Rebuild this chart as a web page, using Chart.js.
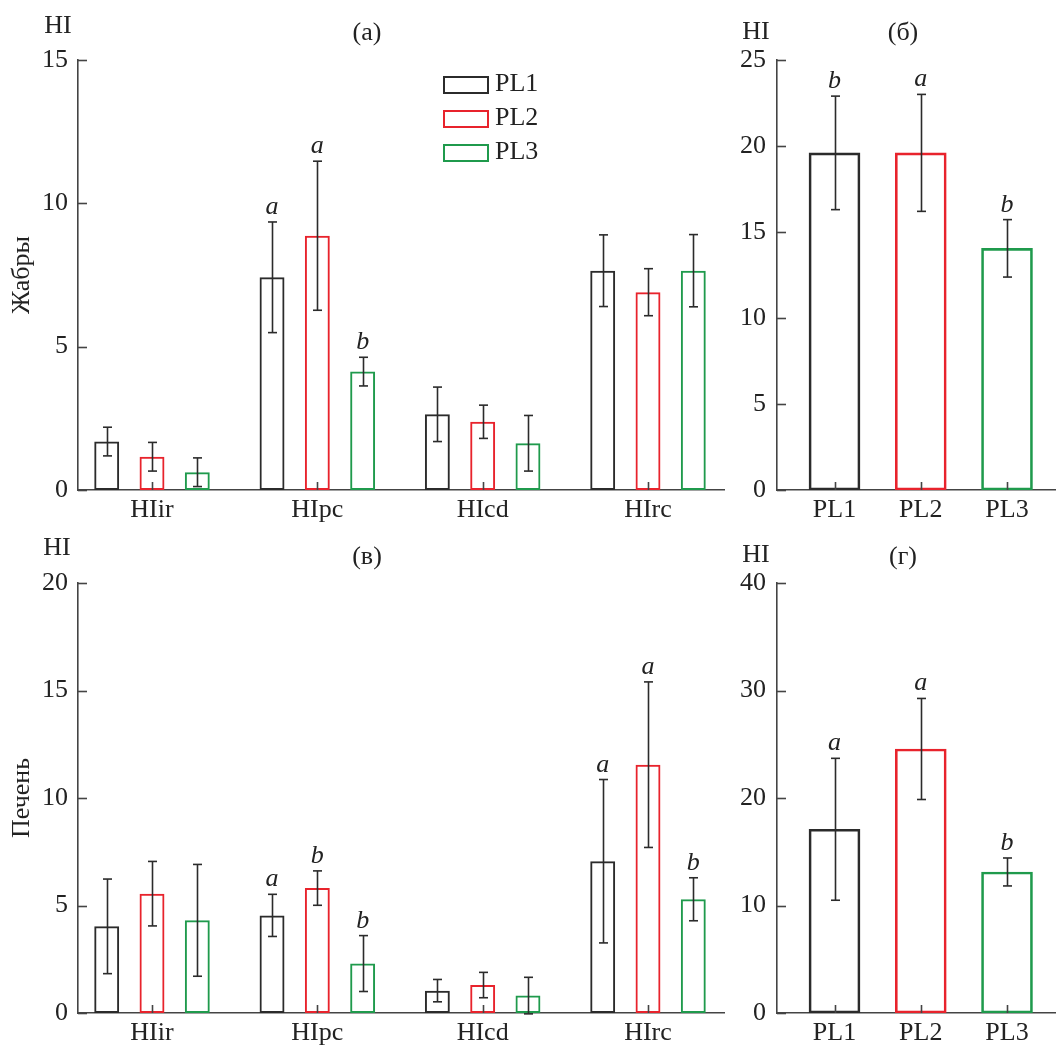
<!DOCTYPE html>
<html>
<head>
<meta charset="utf-8">
<script src="https://cdn.jsdelivr.net/npm/chart.js@4.4.1/dist/chart.umd.min.js"></script>
<style>
  body { margin: 0; background: #fff; }
  canvas { position: absolute; }
</style>
</head>
<body>
<canvas id="chartA" width="725" height="525" style="left:0;top:0"></canvas>
<canvas id="chartB" width="331" height="525" style="left:725px;top:0"></canvas>
<canvas id="chartC" width="725" height="522" style="left:0;top:525px"></canvas>
<canvas id="chartD" width="331" height="522" style="left:725px;top:525px"></canvas>
<script>
const groups = ["HIir", "HIpc", "HIcd", "HIrc"];
const sites = ["PL1", "PL2", "PL3"];
const siteColors = ["#2b2b2b", "#e8232c", "#1f9a4c"];

// (а) жабры, по индексам
const gillPL1 = [1.69, 7.42, 2.64, 7.65];
const gillPL2 = [1.16, 8.87, 2.38, 6.90];
const gillPL3 = [0.62, 4.13, 1.63, 7.65];
const gillErrPL1 = [0.5, 1.93, 0.95, 1.25];
const gillErrPL2 = [0.5, 2.6, 0.58, 0.82];
const gillErrPL3 = [0.5, 0.5, 0.97, 1.26];
const gillMarkPL1 = ["", "a", "", ""];
const gillMarkPL2 = ["", "a", "", ""];
const gillMarkPL3 = ["", "b", "", ""];
const gillTicks = [0, 5, 10, 15];

// (б) жабры, суммарный HI
const gillTotal = [19.6, 19.6, 14.05];
const gillTotalErr = [3.3, 3.4, 1.67];
const gillTotalMark = ["b", "a", "b"];
const gillTotalTicks = [0, 5, 10, 15, 20, 25];

// (в) печень, по индексам
const liverPL1 = [4.03, 4.54, 1.04, 7.06];
const liverPL2 = [5.55, 5.81, 1.30, 11.55];
const liverPL3 = [4.31, 2.30, 0.81, 5.29];
const liverErrPL1 = [2.2, 0.98, 0.52, 3.8];
const liverErrPL2 = [1.5, 0.8, 0.59, 3.85];
const liverErrPL3 = [2.6, 1.3, 0.85, 1.0];
const liverMarkPL1 = ["", "a", "", "a"];
const liverMarkPL2 = ["", "b", "", "a"];
const liverMarkPL3 = ["", "b", "", "b"];
const liverTicks = [0, 5, 10, 15, 20];

// (г) печень, суммарный HI
const liverTotal = [17.09, 24.56, 13.12];
const liverTotalErr = [6.6, 4.7, 1.3];
const liverTotalMark = ["a", "a", "b"];
const liverTotalTicks = [0, 10, 20, 30, 40];

const serif = "'Liberation Serif', 'Times New Roman', serif";
const ink = "#2b2b2b";
const axisColor = "#444";
const fontSize = 26;

Chart.defaults.font.family = serif;
Chart.defaults.font.size = fontSize;
Chart.defaults.color = "#222";

function line(ctx, x1, y1, x2, y2) {
  ctx.beginPath();
  ctx.moveTo(x1, y1);
  ctx.lineTo(x2, y2);
  ctx.stroke();
}

// inward ticks, error bars, letters, titles, legend
const decor = {
  id: "decor",
  afterDatasetsDraw(chart, args, opts) {
    const ctx = chart.ctx;
    const xs = chart.scales.x, ys = chart.scales.y;
    ctx.save();
    ctx.strokeStyle = axisColor;
    ctx.lineWidth = 1.6;
    ys.ticks.forEach(t => {
      const py = Math.round(ys.getPixelForValue(t.value)) + 0.5;
      line(ctx, xs.left, py, xs.left + 9, py);
    });
    xs.ticks.forEach(t => {
      const px = Math.round(xs.getPixelForValue(t.value)) + 0.5;
      line(ctx, px, ys.bottom, px, ys.bottom - 8);
    });

    ctx.strokeStyle = ink;
    ctx.lineWidth = 1.6;
    ctx.fillStyle = "#222";
    ctx.font = "italic " + fontSize + "px " + serif;
    ctx.textAlign = "center";
    ctx.textBaseline = "alphabetic";
    opts.errors.forEach((errs, d) => {
      const meta = chart.getDatasetMeta(d);
      const pts = chart.data.datasets[d].data;
      meta.data.forEach((bar, i) => {
        const v = pts[i].y;
        const px = Math.round(bar.x) + 0.5;
        const top = ys.getPixelForValue(v + errs[i]);
        const bot = ys.getPixelForValue(v - errs[i]);
        line(ctx, px, top, px, bot);
        line(ctx, px - 4.5, top, px + 4.5, top);
        line(ctx, px - 4.5, bot, px + 4.5, bot);
        const m = opts.marks[d][i];
        if (m) ctx.fillText(m, bar.x, top - 8);
      });
    });

    ctx.font = fontSize + "px " + serif;
    ctx.textBaseline = "middle";
    opts.texts.forEach(t => {
      ctx.save();
      ctx.translate(t.x, t.y);
      if (t.rotate) ctx.rotate(-Math.PI / 2);
      ctx.fillText(t.text, 0, 0);
      ctx.restore();
    });

    if (opts.legend) {
      ctx.lineWidth = 2;
      ctx.textAlign = "left";
      sites.forEach((s, i) => {
        const top = 76 + 34 * i;
        ctx.strokeStyle = siteColors[i];
        ctx.strokeRect(444, top + 1, 44, 16);
        ctx.fillText(s, 495, top + 8);
      });
    }
    ctx.restore();
  }
};

function yAxis(max, ticks, width, pad) {
  return {
    type: "linear",
    min: 0,
    max: max,
    grid: { display: false, drawTicks: false },
    border: { display: true, color: axisColor, width: 1.6 },
    ticks: { padding: pad },
    afterBuildTicks: s => { s.ticks = ticks.map(v => ({ value: v })); },
    afterFit: s => { s.width = width; }
  };
}

function xAxis(min, max, labels, height) {
  return {
    type: "linear",
    offset: false,
    min: min,
    max: max,
    grid: { display: false, drawTicks: false, offset: false },
    border: { display: true, color: axisColor, width: 1.6 },
    ticks: { padding: 5, callback: v => labels[Math.round(v) - 1] },
    afterBuildTicks: s => { s.ticks = labels.map((l, i) => ({ value: i + 1 })); },
    afterFit: s => { s.height = height; }
  };
}

function points(vals) {
  return vals.map((v, i) => ({ x: i + 1, y: v }));
}

function groupedChart(id, series, errs, marks, max, ticks, top, xh, texts, legend) {
  return new Chart(document.getElementById(id), {
    type: "bar",
    data: {
      datasets: series.map((vals, d) => ({
        label: sites[d],
        data: points(vals),
        backgroundColor: "rgba(255,255,255,0)",
        borderColor: siteColors[d],
        borderWidth: 2,
        borderSkipped: false,
        categoryPercentage: 0.822,
        barPercentage: 0.55
      }))
    },
    options: {
      responsive: false,
      animation: false,
      layout: { autoPadding: false, padding: { top: top, right: 1, left: 0, bottom: 0 } },
      plugins: {
        legend: { display: false },
        tooltip: { enabled: false },
        decor: { errors: errs, marks: marks, texts: texts, legend: legend }
      },
      scales: {
        x: xAxis(0.5524, 4.4597, groups, xh),
        y: yAxis(max, ticks, 78, 10)
      }
    },
    plugins: [decor]
  });
}

function totalChart(id, vals, errs, marks, max, ticks, top, xh, texts) {
  return new Chart(document.getElementById(id), {
    type: "bar",
    data: {
      datasets: [{
        data: points(vals),
        backgroundColor: "rgba(255,255,255,0)",
        borderColor: siteColors,
        borderWidth: 2,
        borderSkipped: false,
        barThickness: 51
      }]
    },
    options: {
      responsive: false,
      animation: false,
      layout: { autoPadding: false, padding: { top: top, right: 0, left: 0, bottom: 0 } },
      plugins: {
        legend: { display: false },
        tooltip: { enabled: false },
        decor: { errors: [errs], marks: [marks], texts: texts, legend: false }
      },
      scales: {
        x: xAxis(0.3333, 3.568, sites, xh),
        y: yAxis(max, ticks, 52, 11)
      }
    },
    plugins: [decor]
  });
}

groupedChart("chartA",
  [gillPL1, gillPL2, gillPL3],
  [gillErrPL1, gillErrPL2, gillErrPL3],
  [gillMarkPL1, gillMarkPL2, gillMarkPL3],
  15, gillTicks, 60, 35,
  [{ text: "HI", x: 58, y: 26 }, { text: "(а)", x: 367, y: 33 },
   { text: "Жабры", x: 22, y: 275, rotate: true }],
  true);

totalChart("chartB", gillTotal, gillTotalErr, gillTotalMark,
  25, gillTotalTicks, 60, 35,
  [{ text: "HI", x: 31, y: 32 }, { text: "(б)", x: 178, y: 33 }]);

groupedChart("chartC",
  [liverPL1, liverPL2, liverPL3],
  [liverErrPL1, liverErrPL2, liverErrPL3],
  [liverMarkPL1, liverMarkPL2, liverMarkPL3],
  20, liverTicks, 58, 34,
  [{ text: "HI", x: 57, y: 23 }, { text: "(в)", x: 367, y: 32 },
   { text: "Печень", x: 22, y: 273, rotate: true }],
  false);

totalChart("chartD", liverTotal, liverTotalErr, liverTotalMark,
  40, liverTotalTicks, 58, 34,
  [{ text: "HI", x: 31, y: 30 }, { text: "(г)", x: 178, y: 32 }]);
</script>
</body>
</html>
